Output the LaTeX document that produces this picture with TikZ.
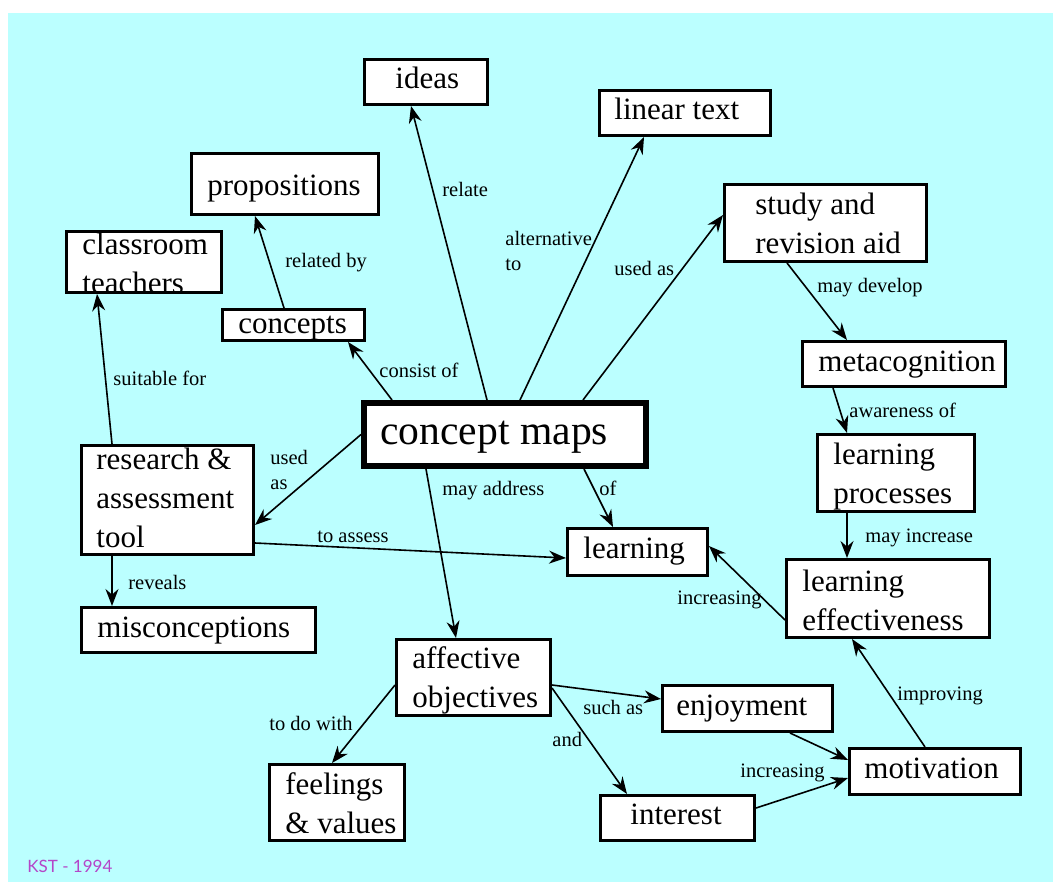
\documentclass[tikz,border=0pt]{standalone}
\usepackage{fontspec}
\setmainfont{Liberation Serif}
\newfontfamily\kstfont{Lato}
\usetikzlibrary{arrows.meta,calc}
\definecolor{bgcyan}{RGB}{187,255,255}
\definecolor{kstcol}{RGB}{180,70,200}
\newcommand\ml[1]{\begin{tabular}[t]{@{}l@{}}#1\end{tabular}}
\begin{document}
\begin{tikzpicture}[x=0.5pt,y=-0.5pt,
  box/.style={draw, line width=1.5pt, fill=white, inner sep=0pt, anchor=north west},
  sz/.style 2 args={minimum width={(#1-3)*0.5pt}, minimum height={(#2-3)*0.5pt}},
  bigbox/.style={box, line width=3pt},
  txt/.style={inner sep=0pt, anchor=base west, font=\fontsize{15.5}{19.5}\selectfont},
  bigtxt/.style={inner sep=0pt, anchor=base west, font=\fontsize{20.8}{25}\selectfont},
  lbl/.style={inner sep=0pt, anchor=base west, font=\fontsize{10.25}{12.5}\selectfont},
  arr/.style={line width=0.8pt, -{Stealth[length=8.5pt,width=6.5pt,inset=2.8pt]}}]
\useasboundingbox (0,0) rectangle (1053,882);
\fill[white] (0,0) rectangle (1053,882);
\fill[bgcyan] (8,13) rectangle (1053,882);

% boxes
\node[box, sz={126}{48}] (ideas) at (363,58) {};
\node[box, sz={174}{48}] (linear) at (598,89) {};
\node[box, sz={190}{64}] (props) at (190,152) {};
\node[box, sz={158}{64}] (class) at (65,230) {};
\node[box, sz={145}{34}] (concepts) at (221,308) {};
\node[box, sz={205}{80}] (study) at (723,183) {};
\node[box, sz={206}{48}] (meta) at (801,340) {};
\node[bigbox, sz={285}{66}] (cmaps) at (361,400) {};
\node[box, sz={175}{112}] (research) at (80,444) {};
\node[box, sz={143}{50}] (learning) at (566,527) {};
\node[box, sz={160}{80}] (lproc) at (816,433) {};
\node[box, sz={206}{81}] (leff) at (785,558) {};
\node[box, sz={237}{48}] (miscon) at (80,606) {};
\node[box, sz={157}{79}] (affect) at (395,638) {};
\node[box, sz={173}{49}] (enjoy) at (661,684) {};
\node[box, sz={138}{79}] (feel) at (268,763) {};
\node[box, sz={174}{49}] (motiv) at (848,747) {};
\node[box, sz={157}{48}] (interest) at (599,794) {};

% box texts
\node[txt] (ideas-t) at (395,89) {ideas};
\node[txt] (linear-t) at (614,120) {linear text};
\node[txt] (props-t) at (207,196) {propositions};
\node[txt] (class-t) at (82,254) {\ml{classroom\\teachers}};
\node[txt] (concepts-t) at (238,333) {concepts};
\node[txt] (study-t) at (755,214) {\ml{study and\\revision aid}};
\node[txt] (meta-t) at (818,371) {metacognition};
\node[bigtxt] (cmaps-t) at (380,444) {concept maps};
\node[txt] (research-t) at (96,469) {\ml{research \&\\assessment\\tool}};
\node[txt] (learning-t) at (583,558) {learning};
\node[txt] (lproc-t) at (833,464) {\ml{learning\\processes}};
\node[txt] (leff-t) at (802,591) {\ml{learning\\effectiveness}};
\node[txt] (miscon-t) at (97,637) {misconceptions};
\node[txt] (affect-t) at (412,668) {\ml{affective\\objectives}};
\node[txt] (enjoy-t) at (676,715) {enjoyment};
\node[txt] (feel-t) at (285,794) {\ml{feelings\\\& values}};
\node[txt] (motiv-t) at (864,778) {motivation};
\node[txt] (interest-t) at (630,824) {interest};

% connectors
\draw[arr] ($(cmaps.north)+(-18,0)$) -- ($(ideas.south)+(-15,0)$);
\draw[arr] ($(cmaps.north)+(15,0)$) -- ($(linear.south)+(-41,0)$);
\draw[arr] ($(cmaps.north)+(78,0)$) -- ($(study.west)+(0,-8)$);
\draw[arr] ($(cmaps.north west)+(31,0)$) -- ($(concepts.south east)+(-18,0)$);
\draw[arr] ($(concepts.north)+(-9.5,0)$) -- ($(props.south)+(-30,0)$);
\draw[arr] ($(research.north west)+(32,0)$) -- ($(class.south west)+(32,0)$);
\draw[arr] (cmaps.west) -- ($(research.east)+(0,25)$);
\draw[arr] ($(research.east)+(0,43)$) -- ($(learning.west)+(0,6)$);
\draw[arr] ($(research.south west)+(32,0)$) -- ($(miscon.north west)+(32,0)$);
\draw[arr] ($(cmaps.south west)+(65,0)$) -- ($(affect.north)+(-17.5,0)$);
\draw[arr] ($(cmaps.south)+(79,0)$) -- ($(learning.north)+(-24.5,0)$);
\draw[arr] ($(study.south west)+(64,0)$) -- ($(meta.north west)+(46,0)$);
\draw[arr] ($(meta.south west)+(32,0)$) -- ($(lproc.north west)+(31,0)$);
\draw[arr] ($(lproc.south west)+(31,0)$) -- ($(leff.north west)+(62,0)$);
\draw[arr] ($(leff.west)+(0,21.5)$) -- ($(learning.east)+(0,-6)$);
\draw[arr] ($(motiv.north)+(-10,0)$) -- ($(leff.south)+(-36,0)$);
\draw[arr] ($(affect.west)+(0,7.5)$) -- ($(feel.north)+(-5,0)$);
\draw[arr] ($(affect.east)+(0,7.5)$) -- ($(enjoy.west)+(0,-9.5)$);
\draw[arr] ($(affect.east)+(0,10.5)$) -- ($(interest.north west)+(28,0)$);
\draw[arr] ($(enjoy.south)+(42.5,0)$) -- ($(motiv.west)+(0,-11.5)$);
\draw[arr] ($(interest.east)+(0,-10)$) -- ($(motiv.west)+(0,6.5)$);

% connector labels
\node[lbl] (l-relate) at (442,197) {relate};
\node[lbl] (l-relby) at (285,267) {related by};
\node[lbl] (l-alt) at (505,245) {\begin{tabular}[t]{@{}l@{}}alternative\\to\end{tabular}};
\node[lbl] (l-usedas1) at (614,275) {used as};
\node[lbl] (l-maydev) at (817,292) {may develop};
\node[lbl] (l-aware) at (849,417) {awareness of};
\node[lbl] (l-consist) at (379,377) {consist of};
\node[lbl] (l-suit) at (113,385) {suitable for};
\node[lbl] (l-usedas2) at (270,464) {\begin{tabular}[t]{@{}l@{}}used\\as\end{tabular}};
\node[lbl] (l-mayaddr) at (442,495) {may address};
\node[lbl] (l-of) at (599,495) {of};
\node[lbl] (l-assess) at (317,542) {to assess};
\node[lbl] (l-reveals) at (128,589) {reveals};
\node[lbl] (l-incr1) at (677,604) {increasing};
\node[lbl] (l-mayinc) at (865,542) {may increase};
\node[lbl] (l-improv) at (897,700) {improving};
\node[lbl] (l-todo) at (269,730) {to do with};
\node[lbl] (l-such) at (583,714) {such as};
\node[lbl] (l-and) at (552,746) {and};
\node[lbl] (l-incr2) at (740,777) {increasing};

\node[inner sep=0pt, anchor=base west, text=kstcol, font=\kstfont\fontsize{8.5}{10}\selectfont] (kst) at (27,872) {KST - 1994};
\end{tikzpicture}
\end{document}
